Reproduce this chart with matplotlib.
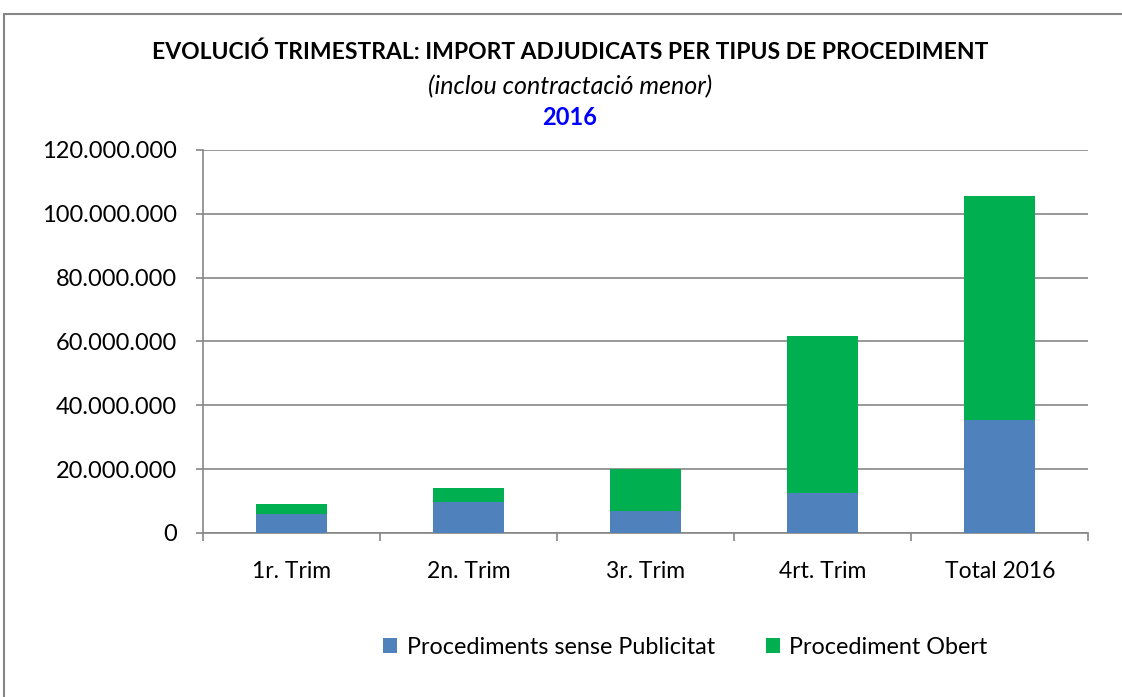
import numpy as np
import matplotlib.pyplot as plt
from matplotlib.ticker import FuncFormatter, FixedLocator

categories = ["1r. Trim", "2n. Trim", "3r. Trim", "4rt. Trim", "Total 2016"]
sense_publicitat = [6000000, 9800000, 7000000, 12400000, 35500000]
obert = [3160000, 4400000, 13100000, 49400000, 70000000]
series_names = ["Procediments sense Publicitat", "Procediment Obert"]

plt.rcParams['font.family'] = ['Lato', 'DejaVu Sans']

fig = plt.figure(figsize=(11.22, 6.97), dpi=100)
ax = fig.add_axes([0.181, 0.2353, 0.789, 0.5497])

x = np.arange(len(categories))
ax.bar(x, sense_publicitat, width=0.4, color='#4f81bd', label=series_names[0], zorder=3)
ax.bar(x, obert, width=0.4, bottom=sense_publicitat, color='#00b050', label=series_names[1], zorder=3)

ax.set_xlim(-0.5, len(categories) - 0.5)
ax.set_ylim(0, 120000000)
ax.set_yticks(np.arange(0, 120000001, 20000000))
ax.yaxis.set_major_formatter(FuncFormatter(lambda v, p: f"{int(v):,}".replace(",", ".")))
ax.set_xticks(x)
ax.set_xticklabels(categories)
ax.xaxis.set_minor_locator(FixedLocator(np.arange(-0.5, len(categories), 1)))
ax.tick_params(axis='x', which='major', length=0, labelsize=16.5, pad=20, colors='black')
ax.tick_params(axis='x', which='minor', length=6, color='#868686', width=1.2)
ax.tick_params(axis='y', length=5, color='#868686', width=1.2, labelsize=17, pad=14)
ax.grid(axis='y', color='#868686', lw=1.2, zorder=0)
for s in ['top', 'right']:
    ax.spines[s].set_visible(False)
for s in ['left', 'bottom']:
    ax.spines[s].set_color('#868686')
    ax.spines[s].set_linewidth(1.2)

fig.text(0.508, 0.925, "EVOLUCIÓ TRIMESTRAL: IMPORT ADJUDICATS PER TIPUS DE PROCEDIMENT",
         ha='center', va='center', fontsize=16.5, fontweight='bold')
fig.text(0.508, 0.875, "(inclou contractació menor)", ha='center', va='center',
         fontsize=18, style='italic')
fig.text(0.508, 0.832, "2016", ha='center', va='center', fontsize=17,
         fontweight='bold', color='#0000ff')

ax.legend(loc='center', bbox_to_anchor=(0.545, -0.298), ncol=2, frameon=False,
          fontsize=16.8, handlelength=0.6, handleheight=0.6, columnspacing=2.2,
          handletextpad=0.4)

fig.patches.append(plt.Rectangle((4 / 1122, -0.1), 1.2, 1 - 14 / 697 + 0.1,
                                 transform=fig.transFigure, fill=False,
                                 edgecolor='#868686', lw=1.5))

fig.savefig("out.png", dpi=100)
